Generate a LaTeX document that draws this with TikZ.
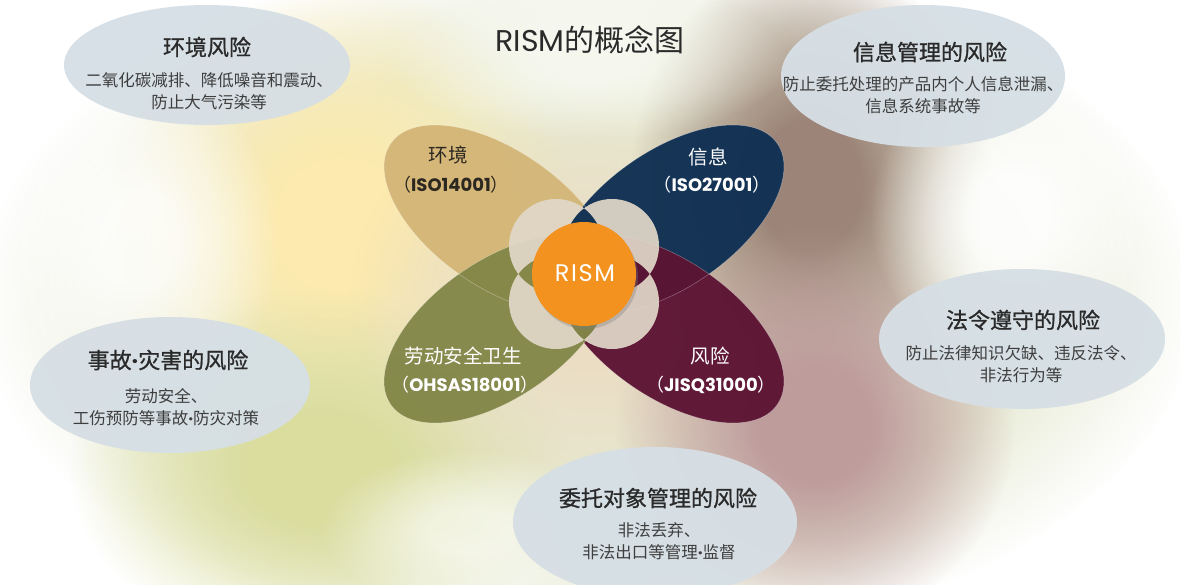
\documentclass[tikz,border=0pt]{standalone}
\usepackage{fontspec}
\setmainfont{Noto Sans CJK SC}
\newfontfamily\cjktitle[FakeBold=0.9]{Noto Sans CJK SC}
\newfontfamily\geo{Poppins}
\newfontfamily\geowide[LetterSpace=7]{Poppins}
\usetikzlibrary{fadings,shadows}
\pgfdeclareradialshading{bellshade}{\pgfpointorigin}{color(0bp)=(white); color(7bp)=(white); color(15bp)=(white!60!black); color(25bp)=(black); color(50bp)=(black)}
\pgfdeclarefading{bellblob}{\pgfuseshading{bellshade}}
\pgfdeclareradialshading{flatshade}{\pgfpointorigin}{color(0bp)=(white); color(17bp)=(white); color(25bp)=(black); color(50bp)=(black)}
\pgfdeclarefading{flatblob}{\pgfuseshading{flatshade}}
\definecolor{tanc}{HTML}{D4B677}
\definecolor{bluec}{HTML}{0F2F52}
\definecolor{olivec}{HTML}{828748}
\definecolor{maroonc}{HTML}{5C1433}
\definecolor{orangec}{HTML}{F3921F}
\definecolor{creamc}{HTML}{E2D8C9}
\definecolor{bubc}{HTML}{D6DFE5}
\definecolor{titc}{HTML}{2A2A2A}
\definecolor{bodyc}{HTML}{3E3E3E}
\definecolor{darklab}{HTML}{2C2820}
\definecolor{bgyellow}{HTML}{FCEAAE}
\definecolor{bgbrown}{HTML}{9C8578}
\definecolor{bgpink}{HTML}{BE9C9C}
\definecolor{bggreen}{HTML}{DADD9E}
\definecolor{bgcream}{HTML}{EBDDC4}
\definecolor{bgpale}{HTML}{E6EAD2}
\begin{document}
\begin{tikzpicture}[x=1pt,y=-1pt,
  blob/.style={path fading=bellblob},
  petal/.style={opacity=0.96},
  petaledge/.style={draw=white, draw opacity=0.35, line width=0.5pt},
  riskbub/.style={fill=bubc, opacity=0.96},
  bubtitle/.style={font=\cjktitle\fontsize{22}{26}\selectfont, text=titc, inner sep=0pt},
  bubbody/.style={font=\fontsize{16.5}{22.5}\selectfont, text=bodyc, align=center, inner sep=0pt},
  petalname/.style={font=\fontsize{19.5}{24}\selectfont, inner sep=0pt},
  isoname/.style={font=\fontsize{18}{24}\selectfont, inner sep=0pt},
]
\useasboundingbox (0,0) rectangle (1180,585);
\clip (0,0) rectangle (1180,585);
\fill[white] (0,0) rectangle (1180,585);
% background
\fill[bgpale, path fading=flatblob] (590,300) ellipse [x radius=610, y radius=350];
\fill[bgyellow, blob] (340,225) ellipse [x radius=240, y radius=240];
\fill[bggreen, blob] (320,470) ellipse [x radius=250, y radius=180];
\fill[bgcream, blob] (590,300) ellipse [x radius=240, y radius=210];
\fill[bgbrown, blob] (810,185) ellipse [x radius=180, y radius=230];
\fill[bgpink, blob] (815,425) ellipse [x radius=200, y radius=200];
\fill[white, blob, opacity=0.9] (1010,215) ellipse [x radius=140, y radius=150];
\fill[white, blob, opacity=0.8] (140,240) ellipse [x radius=140, y radius=170];
\fill[white, blob, opacity=0.6] (590,60) ellipse [x radius=200, y radius=80];
\fill[white, blob, opacity=0.6] (470,530) ellipse [x radius=150, y radius=80];
% petals
\fill[tanc, petal, rotate around={-35:(499,219)}] (499,219) ellipse [x radius=132, y radius=68];
\fill[bluec, petal, rotate around={35:(669,219)}] (669,219) ellipse [x radius=132, y radius=68];
\fill[maroonc, petal, rotate around={-35:(669,329)}] (669,329) ellipse [x radius=132, y radius=68];
\fill[olivec, petal, rotate around={35:(499,329)}] (499,329) ellipse [x radius=132, y radius=68];
\path[petaledge, rotate around={-35:(499,219)}] (499,219) ellipse [x radius=132, y radius=68];
\path[petaledge, rotate around={35:(669,219)}] (669,219) ellipse [x radius=132, y radius=68];
\path[petaledge, rotate around={-35:(669,329)}] (669,329) ellipse [x radius=132, y radius=68];
\path[petaledge, rotate around={35:(499,329)}] (499,329) ellipse [x radius=132, y radius=68];
% quatrefoil
\fill[creamc, opacity=0.92, even odd rule]
  (556,246) circle (47) (612,246) circle (47)
  (556,302) circle (47) (612,302) circle (47);
% centre
\node[circle, minimum size=104pt, fill=orangec, inner sep=0pt,
  drop shadow={opacity=0.35, shadow xshift=2pt, shadow yshift=-3pt}]
  (core) at (584,274) {};
\node[text=white, font=\geowide\fontsize{24}{26}\selectfont, inner sep=0pt] (rism) at (585,273) {RISM};
% petal labels
\node[petalname, text=darklab] (envname) at (448,155) {环境};
\node[isoname, text=darklab] (enviso) at (451,185) {（{\geo\bfseries ISO14001}）};
\node[petalname, text=white] (infname) at (708,157) {信息};
\node[isoname, text=white] (infiso) at (712,185) {（{\geo\bfseries ISO27001}）};
\node[petalname, text=white] (labname) at (463,356) {劳动安全卫生};
\node[isoname, text=white] (labiso) at (465,385) {（{\geo\bfseries OHSAS18001}）};
\node[petalname, text=white] (rskname) at (710,356) {风险};
\node[isoname, text=white] (rskiso) at (711,385) {（{\geo\bfseries JISQ31000}）};
% title
\node[font=\fontsize{30}{34}\selectfont, text=titc, inner sep=0pt] (title) at (590,40) {{\geo RISM}的概念图};
% outer bubbles
\fill[riskbub] (207,65) ellipse [x radius=143, y radius=60];
\node[bubtitle] (b1t) at (207,47) {环境风险};
\node[bubbody] (b1b) at (209,91) {二氧化碳减排、降低噪音和震动、\\防止大气污染等};
\fill[riskbub] (923,76) ellipse [x radius=142, y radius=71];
\node[bubtitle] (b2t) at (930,52) {信息管理的风险};
\node[bubbody] (b2b) at (923,95) {防止委托处理的产品内个人信息泄漏、\\信息系统事故等};
\fill[riskbub] (1022,339) ellipse [x radius=143, y radius=70];
\node[bubtitle] (b3t) at (1023,320) {法令遵守的风险};
\node[bubbody] (b3b) at (1021,364) {防止法律知识欠缺、违反法令、\\非法行为等};
\fill[riskbub] (170,385) ellipse [x radius=140, y radius=68];
\node[bubtitle] (b4t) at (168,360) {事故{\geo\bfseries ·}灾害的风险};
\node[bubbody] (b4b) at (166,407) {劳动安全、\\工伤预防等事故{\geo\bfseries ·}防灾对策};
\fill[riskbub] (655,522) ellipse [x radius=142, y radius=75];
\node[bubtitle] (b5t) at (658,498) {委托对象管理的风险};
\node[bubbody] (b5b) at (659,541) {非法丢弃、\\非法出口等管理{\geo\bfseries ·}监督};
\end{tikzpicture}
\end{document}
